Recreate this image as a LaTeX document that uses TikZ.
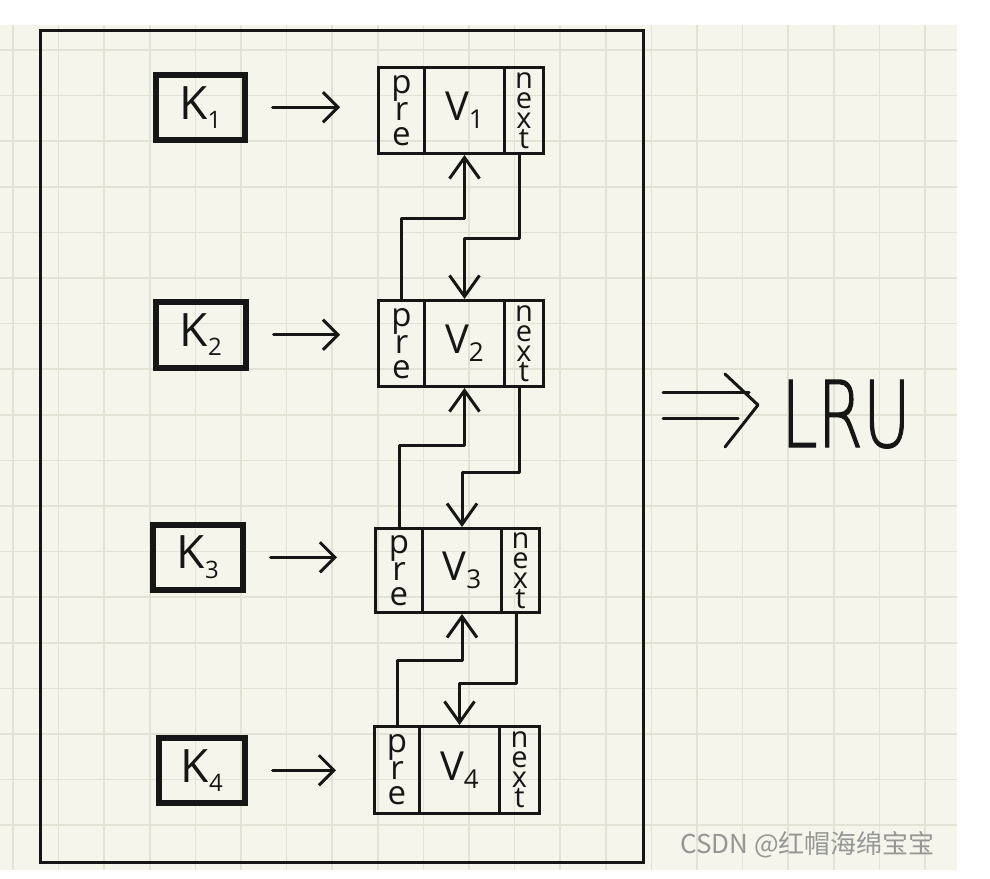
\documentclass[tikz,border=0pt]{standalone}
\usepackage{fontspec}
\setmainfont{Open Sans}
\newfontfamily\cjkfont{Noto Sans CJK SC}
\newfontfamily\thinfont[FakeBold=1.5]{DejaVu Sans ExtraLight}
\usetikzlibrary{arrows.meta,calc}
\definecolor{paper}{RGB}{245,245,235}
\definecolor{gridc}{RGB}{226,226,213}
\definecolor{inkc}{RGB}{22,22,22}
\definecolor{markc}{RGB}{150,150,150}
\newcommand\lrurow[7]{% idx, left, pdiv, ndiv, right, top, bottom
  \node[cell, minimum width={#3-#2}, minimum height={#7-#6}, anchor=north west,
        font=\fontsize{33}{25}\selectfont] (p#1) at (#2,#6) {p\\r\\e};
  \node[cell, minimum width={#4-#3}, minimum height={#7-#6}, anchor=north west,
        font=\fontsize{40}{40}\selectfont] (v#1) at (#3,#6) {V\raisebox{-0.2em}{\fontsize{26}{26}\selectfont #1}};
  \node[cell, minimum width={#5-#4}, minimum height={#7-#6}, anchor=north west,
        font=\fontsize{29}{20}\selectfont] (n#1) at (#4,#6) {n\\e\\x\\t};
}
\newcommand\lrukey[5]{% idx, left, right, top, bottom
  \node[keybox, minimum width={#3-#2}, minimum height={#5-#4}, anchor=north west] (k#1) at (#2,#4)
    {K\raisebox{-0.2em}{\fontsize{24}{24}\selectfont #1}};
}
\begin{document}
\begin{tikzpicture}[x=1pt,y=-1pt,
  cell/.style={draw=inkc, line width=3, inner sep=0pt, align=center, text=inkc},
  keybox/.style={draw=inkc, line width=5.5, inner sep=0pt, text=inkc, font=\fontsize{46}{46}\selectfont},
  ink/.style={draw=inkc, line width=3, line cap=round, line join=round},
  karrow/.style={ink, -{Straight Barb[length=15pt,width=30pt]}},
  link/.style={ink, -{Straight Barb[length=21pt,width=30pt]}},
  gridline/.style={draw=gridc, line width=1.6}]
\useasboundingbox (0,0) rectangle (990,878);
\fill[white] (0,0) rectangle (990,878);
\fill[paper] (0,25) rectangle (957,870);
\foreach \i in {0,...,20} \draw[gridline] ({13+45.6*\i},25) -- ({13+45.6*\i},870);
\foreach \j in {0,...,17} \draw[gridline] (0,{50+45.6*\j}) -- (957,{50+45.6*\j});
\draw[draw=inkc, line width=3] (40,30) rectangle (643,862);

\lrukey{1}{153}{242}{72}{137}
\lrukey{2}{153}{243}{299}{365}
\lrukey{3}{150}{240}{522}{587}
\lrukey{4}{156}{242}{735}{800}

\lrurow{1}{377}{423}{503}{542}{66}{152}
\lrurow{2}{377}{423}{503}{542}{299}{385}
\lrurow{3}{374}{421}{500}{538}{527}{611}
\lrurow{4}{373}{418}{498}{538}{725}{812}

\foreach \i in {1,...,4}
  \draw[karrow, shorten <=25pt, shorten >=37pt] (k\i.east) -- (k\i.east -| p\i.west);

\draw[link] (p2.north) |- ($(v1.south)+(0,63)$) -- (v1.south);
\draw[link] ($(n1.south)+(-5,0)$) |- ($(v2.north)+(0,-61)$) -- (v2.north);
\draw[link] (p3.north) |- ($(v2.south)+(0,57)$) -- (v2.south);
\draw[link] ($(n2.south)+(-5,0)$) |- ($(v3.north)+(0,-55)$) -- (v3.north);
\draw[link] (p4.north) |- ($(v3.south)+(0,46)$) -- (v3.south);
\draw[link] ($(n3.south)+(-4,0)$) |- ($(v4.north)+(0,-42)$) -- (v4.north);

\draw[ink] (663,392) -- (749,392);
\draw[ink] (663,418) -- (738,418);
\draw[ink] (725,374) -- (758,405) -- (725,447);
\node[anchor=base west, inner sep=0pt, text=inkc, font=\thinfont\fontsize{92}{92}\selectfont] (lru) at (781,447) {\scalebox{0.71}[1]{LRU}};

\node[anchor=base west, inner sep=0pt, text=markc, font=\cjkfont\fontsize{26}{26}\selectfont] (mark) at (680,853) {CSDN @红帽海绵宝宝};
\end{tikzpicture}
\end{document}
